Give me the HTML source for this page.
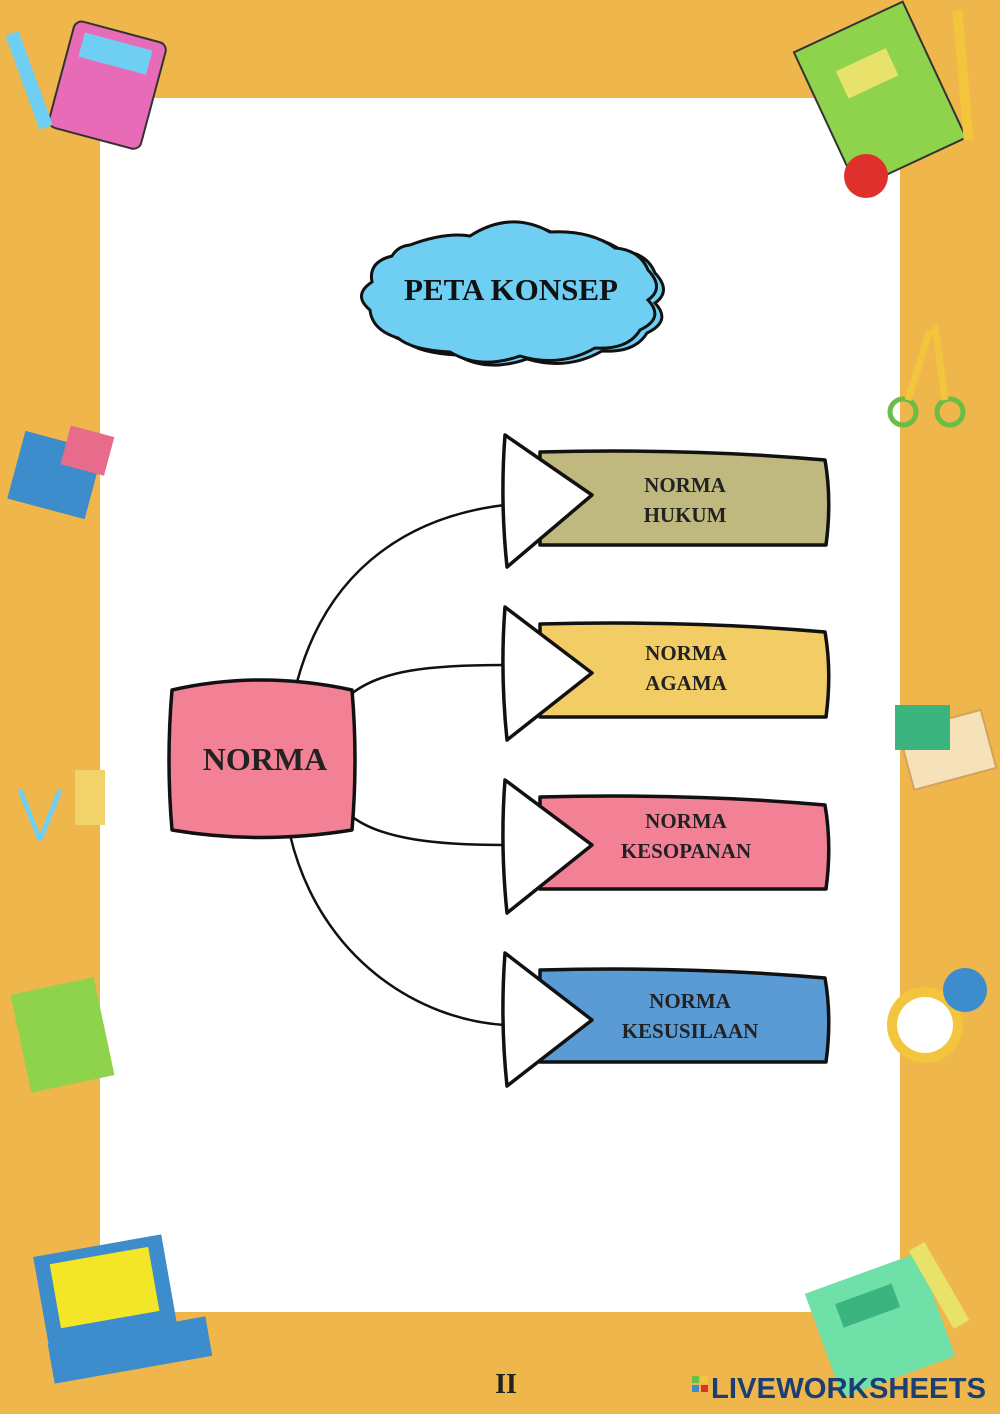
<!DOCTYPE html>
<html><head><meta charset="utf-8"><style>
html,body{margin:0;padding:0}
body{width:1000px;height:1414px;overflow:hidden;background:#EFB64B}
svg{display:block}
</style></head><body>
<svg width="1000" height="1414" viewBox="0 0 1000 1414" xmlns="http://www.w3.org/2000/svg">
<rect width="1000" height="1414" fill="#EFB64B"/>
<rect x="100" y="98" width="800" height="1214" fill="#fff"/>

<!-- decorations (simplified) -->
<g>
 <rect x="60" y="30" width="95" height="110" rx="8" fill="#E86BB8" transform="rotate(15 107 85)" stroke="#333" stroke-width="2"/>
 <rect x="72" y="40" width="70" height="25" fill="#6ECFF2" transform="rotate(15 107 85)"/>
 <rect x="22" y="30" width="14" height="100" fill="#6ECFF2" transform="rotate(-20 30 80)"/>
 <rect x="820" y="20" width="120" height="150" fill="#8ED34B" transform="rotate(-25 880 95)" stroke="#333" stroke-width="2"/>
 <rect x="850" y="55" width="55" height="30" fill="#E9E26A" transform="rotate(-25 880 95)"/>
 <circle cx="866" cy="176" r="22" fill="#E0302B"/>
 <rect x="958" y="10" width="10" height="130" fill="#F2C53D" transform="rotate(-5 963 75)"/>
 <circle cx="903" cy="412" r="13" fill="none" stroke="#6BBE45" stroke-width="5"/>
 <circle cx="950" cy="412" r="13" fill="none" stroke="#6BBE45" stroke-width="5"/>
 <path d="M908 400 L930 330 M945 400 L935 325" stroke="#F2C53D" stroke-width="7"/>
 <rect x="15" y="440" width="80" height="70" fill="#3D8CCB" transform="rotate(15 55 475)"/>
 <rect x="65" y="430" width="45" height="40" fill="#E86B8B" transform="rotate(15 85 450)"/>
 <rect x="905" y="720" width="85" height="60" fill="#F5E2B8" transform="rotate(-15 947 750)" stroke="#D4A35B" stroke-width="2"/>
 <rect x="895" y="705" width="55" height="45" fill="#3CB480"/>
 <rect x="75" y="770" width="30" height="55" fill="#F2D26B"/>
 <path d="M20 790 L40 840 M60 790 L40 840" stroke="#6ECFF2" stroke-width="5"/>
 <rect x="20" y="985" width="85" height="100" fill="#8ED34B" transform="rotate(-12 62 1035)"/>
 <circle cx="925" cy="1025" r="38" fill="#F2C53D"/>
 <circle cx="925" cy="1025" r="28" fill="#fff"/>
 <circle cx="965" cy="990" r="22" fill="#3D8CCB"/>
 <rect x="40" y="1245" width="130" height="90" fill="#3D8CCB" transform="rotate(-10 105 1290)"/>
 <rect x="55" y="1255" width="100" height="65" fill="#F2E626" transform="rotate(-10 105 1290)"/>
 <rect x="50" y="1330" width="160" height="40" fill="#3D8CCB" transform="rotate(-10 130 1350)"/>
 <rect x="820" y="1270" width="120" height="110" fill="#6EE0A8" transform="rotate(-20 880 1325)"/>
 <rect x="845" y="1290" width="60" height="25" fill="#3CB480" transform="rotate(-20 880 1325)"/>
 <rect x="930" y="1240" width="18" height="90" fill="#E9E26A" transform="rotate(-30 940 1285)"/>
</g>

<!-- cloud -->
<g stroke="#111" stroke-width="3">
<path id="cl" d="M410 245 Q445 232 470 236 Q510 210 550 232 Q590 230 615 248 Q640 250 648 270 Q665 288 648 300 Q665 318 640 330 Q628 350 595 348 Q560 368 520 356 Q480 370 450 352 Q412 350 398 338 Q372 330 370 310 Q352 295 372 282 Q368 262 392 256 Q398 246 410 245Z" fill="#6ECFF2" transform="translate(7 3)"/>
<path d="M410 245 Q445 232 470 236 Q510 210 550 232 Q590 230 615 248 Q640 250 648 270 Q665 288 648 300 Q665 318 640 330 Q628 350 595 348 Q560 368 520 356 Q480 370 450 352 Q412 350 398 338 Q372 330 370 310 Q352 295 372 282 Q368 262 392 256 Q398 246 410 245Z" fill="#6ECFF2"/>
</g>
<text x="511" y="300" font-family="Liberation Serif, serif" font-weight="bold" font-size="31" text-anchor="middle" fill="#111">PETA KONSEP</text>

<!-- connectors -->
<g fill="none" stroke="#111" stroke-width="2.5">
<path d="M297 682 C330 560 420 515 505 505"/>
<path d="M350 695 C380 670 430 665 505 665"/>
<path d="M350 815 C380 840 440 845 505 845"/>
<path d="M290 835 C320 960 420 1020 505 1025"/>
</g>

<!-- boxes -->
<g stroke="#111" stroke-width="3.5" stroke-linejoin="round">
<path d="M540 452 Q690 448 825 460 Q832 500 826 545 L540 545Z" fill="#BFB97F"/>
<path d="M505 435 L592 495 L507 567 Q500 500 505 435Z" fill="#fff"/>
<path d="M540 624 Q690 620 825 632 Q832 672 826 717 L540 717Z" fill="#F2CD66"/>
<path d="M505 607 L592 673 L507 740 Q500 672 505 607Z" fill="#fff"/>
<path d="M540 797 Q690 793 825 805 Q832 845 826 889 L540 889Z" fill="#F28195"/>
<path d="M505 780 L592 845 L507 913 Q500 845 505 780Z" fill="#fff"/>
<path d="M540 970 Q690 966 825 978 Q832 1018 826 1062 L540 1062Z" fill="#5B9BD5"/>
<path d="M505 953 L592 1020 L507 1086 Q500 1020 505 953Z" fill="#fff"/>
<path d="M172 690 Q260 670 352 690 Q358 760 352 830 Q260 845 172 830 Q166 760 172 690Z" fill="#F28195"/>
</g>
<g font-family="Liberation Serif, serif" font-weight="bold" font-size="21" text-anchor="middle" fill="#222">
<text x="685" y="492">NORMA</text><text x="685" y="522">HUKUM</text>
<text x="686" y="660">NORMA</text><text x="686" y="690">AGAMA</text>
<text x="686" y="828">NORMA</text><text x="686" y="858">KESOPANAN</text>
<text x="690" y="1008">NORMA</text><text x="690" y="1038">KESUSILAAN</text>
<text x="265" y="770" font-size="32">NORMA</text>
<text x="506" y="1393" font-size="28">II</text>
</g>

<!-- logo -->
<rect x="692" y="1376" width="7" height="7" fill="#6BBE45"/><rect x="701" y="1376" width="7" height="7" fill="#F2C53D"/>
<rect x="692" y="1385" width="7" height="7" fill="#3D8CCB"/><rect x="701" y="1385" width="7" height="7" fill="#E0302B"/>
<text x="711" y="1398" font-family="Liberation Sans, sans-serif" font-weight="bold" font-size="29" fill="#1C3F73" textLength="275" lengthAdjust="spacingAndGlyphs">LIVEWORKSHEETS</text>
</svg>
</body></html>
